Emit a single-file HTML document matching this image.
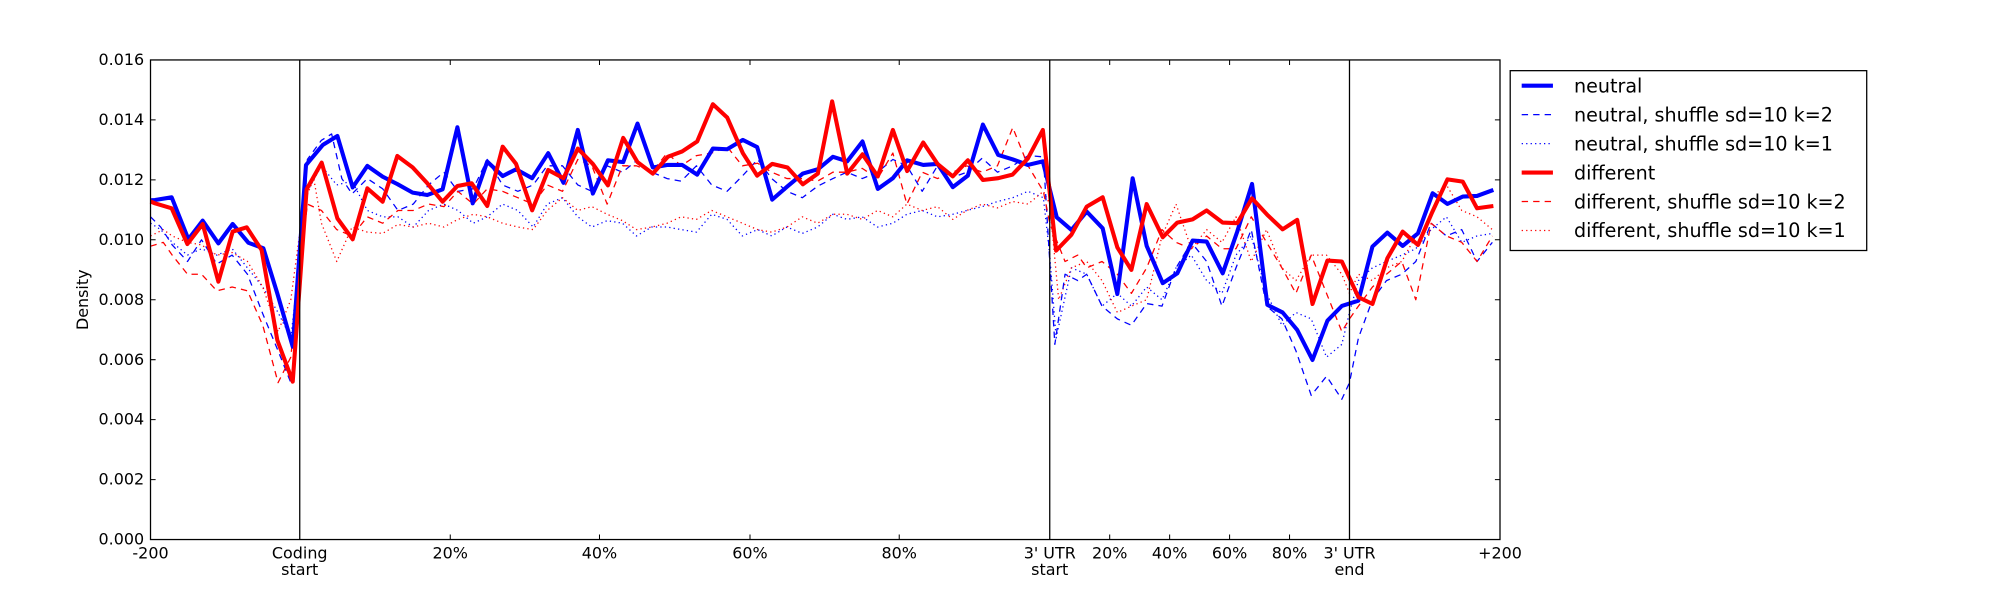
<!DOCTYPE html>
<html><head><meta charset="utf-8"><style>
html,body{margin:0;padding:0;background:#fff;}
svg{display:block;}
text{font-family:"DejaVu Sans","Liberation Sans",sans-serif;fill:#000;}
</style></head><body>
<svg width="2000" height="600" viewBox="0 0 1568 470.4" preserveAspectRatio="none" xmlns="http://www.w3.org/2000/svg">
<rect x="0" y="0" width="1568" height="470.4" fill="#fff"/>
<g fill="none" stroke-linejoin="round">
<!-- blue dotted -->
<polyline stroke="#0000ff" stroke-width="1" stroke-dasharray="1,2.5" points="118,175 126,180 135,190 147,200 158,195 170,200 182,195 194,210 206,225 218,245 228,265 241,150 252,130 264,145 276,142 288,165 300,170 312,170 324,178 336,165 348,160 359,165 371,175 382,170 394,160 406,165 418,178 429,160 441,155 453,170 464,178 476,173 488,175 499,185 511,178 523,178 534,180 546,182 558,168 570,172 582,185 594,180 605,185 617,178 629,183 641,178 653,168 664,172 676,170 688,178 700,175 711,168 723,165 735,170 747,168 758,165 770,162 782,158 794,155 806,150 818,155 823,200 828,265 840,210 852,215 864,240 876,230 887,240 899,225 911,235 922,210 934,200 946,220 958,230 969,200 981,185 993,230 1005,255 1016,245 1028,250 1040,280 1052,270 1058,245 1065,220 1076,210 1087,205 1099,200 1110,195 1122,180 1134,170 1146,190 1158,185 1170,183"/>
<!-- red dotted -->
<polyline stroke="#ff0000" stroke-width="1" stroke-dasharray="1,2.5" points="118,185 128,180 135,185 147,190 158,192 170,200 182,198 194,205 206,225 218,260 228,235 238,160 246,140 252,175 264,205 276,178 288,182 300,183 312,176 324,178 336,175 348,178 359,172 371,168 382,170 394,175 406,178 418,180 429,165 441,155 453,165 464,162 476,168 488,173 499,180 511,178 523,175 534,170 546,172 558,165 570,170 582,175 594,180 605,182 617,178 629,170 641,175 653,168 664,168 676,172 688,165 700,170 711,160 723,165 735,162 747,172 758,165 770,160 782,163 794,158 806,160 818,150 823,160 830,235 840,210 852,205 864,220 876,245 887,240 899,235 911,185 922,160 934,195 946,180 958,190 969,170 981,205 993,180 1005,210 1016,220 1028,200 1040,200 1052,215 1058,230 1065,215 1076,220 1087,210 1099,205 1110,185 1122,155 1134,145 1146,165 1158,170 1170,180"/>
<!-- blue dashed -->
<polyline stroke="#0000ff" stroke-width="1" stroke-dasharray="5,4" points="118,170 126,178 135,192 147,205 158,188 170,207 182,200 194,215 206,246 218,275 228,300 234,250 241,125 252,110 260,105 268,140 276,152 288,140 300,148 312,165 324,160 336,145 348,135 359,150 371,148 382,125 394,145 406,150 418,145 429,130 441,130 453,145 464,150 476,130 488,135 499,126 511,135 523,140 534,142 546,130 558,145 570,150 582,138 594,125 605,140 617,150 629,155 641,146 653,140 664,135 676,140 688,135 700,125 711,130 723,150 735,130 747,139 758,135 770,124 782,135 794,130 806,122 818,123 827,270 835,215 845,220 852,215 864,240 876,250 887,255 899,238 911,240 922,210 934,190 946,205 958,240 969,210 981,180 993,240 1005,250 1016,275 1028,310 1040,295 1052,313 1058,300 1065,265 1076,235 1087,220 1099,215 1110,205 1122,175 1134,185 1146,180 1158,205 1170,190"/>
<!-- red dashed -->
<polyline stroke="#ff0000" stroke-width="1" stroke-dasharray="5,4" points="118,193 128,190 135,200 147,215 158,215 170,228 182,225 194,228 206,255 218,300 228,280 234,220 241,160 252,165 264,180 276,185 288,170 300,175 312,165 324,165 336,160 348,162 359,150 371,160 382,148 394,150 406,155 418,160 429,145 441,150 453,125 464,130 476,160 488,130 499,130 511,135 523,120 534,130 546,122 558,120 570,115 582,130 594,128 605,135 617,140 629,140 641,142 653,135 664,135 676,132 688,140 700,120 711,160 723,135 735,140 747,135 758,130 770,135 782,130 794,100 806,130 818,150 823,175 835,205 845,200 852,210 864,205 876,215 887,230 899,210 911,180 922,190 934,195 946,185 958,195 969,195 981,170 993,190 1005,210 1016,230 1028,200 1040,230 1052,260 1058,250 1065,240 1076,225 1087,215 1099,205 1110,235 1122,175 1134,185 1146,190 1158,205 1170,185"/>
<!-- neutral -->
<polyline stroke="#0000ff" stroke-width="3.2" points="118,157 121.5,156.8 134.6,154.7 147.7,187.6 158.9,173 171.2,190.8 182.4,175.6 194.7,190.3 206.5,194.7 217.4,230 229.5,271.8 239.9,129.4 253,113.7 264.5,106.6 276.5,146.9 288,130.1 300,138.5 311.5,144.3 323.5,151 335,152.9 347,148.4 358.6,99.8 370.6,159.4 382,126.7 394.1,138 404.6,132.7 417.2,139.7 429.8,120.1 441.8,143.3 453,101.9 464.8,151.7 476.6,125.7 488.6,127.1 499.8,96.9 511.8,131.3 523.6,129.3 534.8,129.3 546.6,136.9 558.9,116.5 570.1,117 582.4,109.7 593.6,115.3 605.4,156.5 617.4,146.1 629.4,136.1 641.2,132.7 653,122.9 664.2,126.5 676.2,110.9 688.2,148.1 700,139.7 711.2,125.7 723.8,129.3 735,128.5 747,146.7 758.8,137.7 770.6,97.7 782.6,121.5 793.8,124.9 805.8,129.3 817.6,126.5 828.5,170.4 840,180.3 852,165.9 864.5,179 876,230.5 888,139.8 899,192.8 911.6,222 923,214.3 935,188.6 946,189.4 958.6,214.3 970,181.6 981.6,144.2 993.6,239 1005.6,245 1017,258.7 1029,282.2 1040.7,251.4 1052,239.9 1065,235.7 1076,193.3 1087.7,182.4 1099.7,192.8 1111.7,182.9 1123.2,151.5 1134.8,159.9 1146.8,154.1 1158,153.6 1170.8,148.9"/>
<!-- different -->
<polyline stroke="#ff0000" stroke-width="3.2" points="118,158 121.5,159.4 134.6,163.3 146.9,191.3 158.9,175.6 171.2,220.8 182.4,181.6 193.4,178.2 205.1,196 217.4,266.6 229.5,299.2 240.4,148.4 252.2,127.5 264.5,171.2 276.5,187.6 288,147.7 300,158.1 311.5,122.3 323.5,131.2 335,143.7 347,158.1 358.6,145.8 369.8,143.7 382,161.5 394.1,115 404.6,128.5 417.2,164.9 429.8,133.3 441.8,139.7 453,116.5 464.8,128.5 476.6,145.3 488.6,108.1 499.8,127.1 511.8,136.1 523.6,122.9 534.8,118.7 546.6,110.9 558.9,81.7 570.1,92.1 582.4,120.1 593.6,137.7 605.4,128.5 617.4,131.3 629.4,144.5 641.2,136.1 652.4,79.5 664.2,136.1 676.2,121 688.2,138.3 700,101.9 711.2,134.1 723.8,111.7 735,128.5 747,138.3 758.8,125.7 770.6,141.1 782.6,139.7 793.8,136.9 805.8,124.3 817.6,101.9 828,196.5 840,184 852,162 864.5,154.7 876,194 887,211.6 899,160 911.6,186 923,174.5 935,172 946,165 958.6,174.5 970,175 981.6,155.5 993.6,168.5 1005.6,179.8 1017,172.4 1029,238.3 1040.7,204.3 1052,205 1065,233 1076,238.3 1087.7,202.5 1099.7,181.6 1111.7,192 1123,166 1134.8,140.6 1146.8,142.4 1158,163.3 1170.8,161.5"/>
</g>
<!-- vertical lines -->
<g stroke="#000" stroke-width="1">
<line x1="235" y1="47" x2="235" y2="423"/>
<line x1="823" y1="47" x2="823" y2="423"/>
<line x1="1058" y1="47" x2="1058" y2="423"/>
</g>
<!-- axes frame -->
<rect x="118" y="47" width="1058" height="376" fill="none" stroke="#000" stroke-width="1"/>
<!-- ticks -->
<g stroke="#000" stroke-width="0.8">
<path d="M118,423h4M118,376h4M118,329h4M118,282h4M118,235h4M118,188h4M118,141h4M118,94h4M118,47h4
M1176,423h-4M1176,376h-4M1176,329h-4M1176,282h-4M1176,235h-4M1176,188h-4M1176,141h-4M1176,94h-4M1176,47h-4
M353,423v-4M470,423v-4M588,423v-4M705,423v-4M870,423v-4M917,423v-4M964,423v-4M1011,423v-4
M353,47v4M470,47v4M588,47v4M705,47v4M870,47v4M917,47v4M964,47v4M1011,47v4"/>
</g>
<!-- y labels -->
<g font-size="12.5" text-anchor="end">
<text x="113" y="427">0.000</text>
<text x="113" y="380">0.002</text>
<text x="113" y="333">0.004</text>
<text x="113" y="286">0.006</text>
<text x="113" y="239">0.008</text>
<text x="113" y="192">0.010</text>
<text x="113" y="145">0.012</text>
<text x="113" y="98">0.014</text>
<text x="113" y="51">0.016</text>
</g>
<text x="69" y="235" font-size="12.5" text-anchor="middle" transform="rotate(-90 69 235)">Density</text>
<!-- x labels -->
<g font-size="12.5" text-anchor="middle">
<text x="118" y="438">-200</text>
<text x="235" y="438">Coding</text><text x="235" y="451">start</text>
<text x="353" y="438">20%</text>
<text x="470" y="438">40%</text>
<text x="588" y="438">60%</text>
<text x="705" y="438">80%</text>
<text x="823" y="438">3' UTR</text><text x="823" y="451">start</text>
<text x="870" y="438">20%</text>
<text x="917" y="438">40%</text>
<text x="964" y="438">60%</text>
<text x="1011" y="438">80%</text>
<text x="1058" y="438">3' UTR</text><text x="1058" y="451">end</text>
<text x="1176" y="438">+200</text>
</g>
<!-- legend -->
<rect x="1184" y="55.4" width="279.5" height="141" fill="#fff" stroke="#000" stroke-width="1"/>
<g fill="none">
<line x1="1193" y1="67.2" x2="1217.5" y2="67.2" stroke="#0000ff" stroke-width="3.2"/>
<line x1="1193" y1="89.9" x2="1217.5" y2="89.9" stroke="#0000ff" stroke-width="1" stroke-dasharray="5,4"/>
<line x1="1193" y1="112.6" x2="1217.5" y2="112.6" stroke="#0000ff" stroke-width="1" stroke-dasharray="1,2.5"/>
<line x1="1193" y1="135.3" x2="1217.5" y2="135.3" stroke="#ff0000" stroke-width="3.2"/>
<line x1="1193" y1="158" x2="1217.5" y2="158" stroke="#ff0000" stroke-width="1" stroke-dasharray="5,4"/>
<line x1="1193" y1="180.7" x2="1217.5" y2="180.7" stroke="#ff0000" stroke-width="1" stroke-dasharray="1,2.5"/>
</g>
<g font-size="15">
<text x="1234" y="72.5">neutral</text>
<text x="1234" y="95.2">neutral, shuffle sd=10 k=2</text>
<text x="1234" y="117.9">neutral, shuffle sd=10 k=1</text>
<text x="1234" y="140.6">different</text>
<text x="1234" y="163.3">different, shuffle sd=10 k=2</text>
<text x="1234" y="186">different, shuffle sd=10 k=1</text>
</g>
</svg>
</body></html>
